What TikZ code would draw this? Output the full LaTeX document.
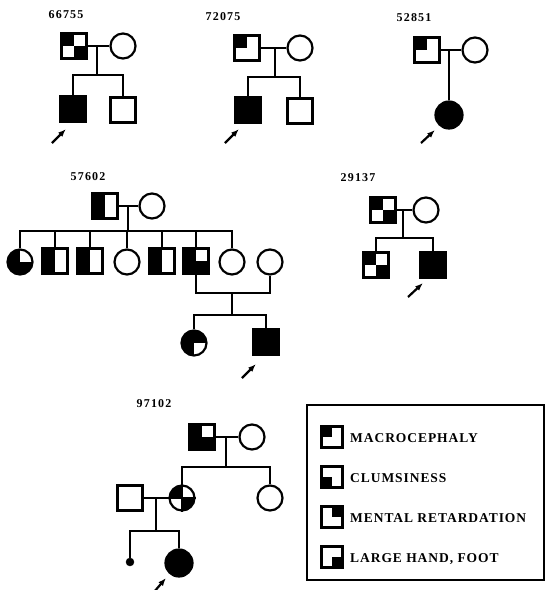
\documentclass[tikz,border=0pt]{standalone}
\usepackage{fontspec}
\setmainfont{Liberation Serif}
\newfontfamily\numfont[LetterSpace=10]{Liberation Serif}
\newfontfamily\keyfont[LetterSpace=7]{Liberation Serif}
\usetikzlibrary{arrows.meta}
\tikzset{
  sq/.style={draw, line width=2.4pt, minimum size=25pt, inner sep=0pt, fill=white},
  ci/.style={draw, circle, line width=2.2pt, minimum size=25pt, inner sep=0pt, fill=white},
  aff/.style={fill=black},
  dot/.style={draw, circle, fill=black, minimum size=8pt, inner sep=0pt},
  keysq/.style={draw, line width=2.4pt, minimum size=21pt, inner sep=0pt, fill=white},
  famno/.style={inner sep=0pt, font=\numfont\bfseries\fontsize{12}{12}\selectfont},
  keytext/.style={anchor=base west, inner sep=0pt, font=\keyfont\bfseries\fontsize{13.5}{13.5}\selectfont},
  pline/.style={line width=2.2pt},
  proband/.style={-{Latex[length=8pt,width=6pt]}, line width=2.2pt}
}
% one black quarter of a square
\newcommand\sqq[2]{\fill (#1.center) rectangle (#1.#2);}
% one black quarter of a circle
\newcommand\ciq[3]{\begin{scope}\clip (#1.center) circle[radius=12.5pt];
  \fill (#1.center) rectangle ([xshift=#2pt,yshift=#3pt]#1.center);\end{scope}}

\begin{document}
\begin{tikzpicture}[x=1pt,y=-1pt]
  \useasboundingbox (0,0) rectangle (545,590);
  % 66755
  \node (n1) [famno] at (66,15) {66755};
  \node (f1) [sq] at (74,46) {}; \sqq{f1}{north west} \sqq{f1}{south east}
  \node (m1) [ci] at (123,46) {};
  \node (s11) [sq,aff] at (73,109) {};
  \node (s12) [sq] at (123,110) {};
  \coordinate (j1) at (97,46);
  \coordinate (b1) at (97,75);
  \draw[pline] (f1) -- (m1);
  \draw[pline] (j1) -- (b1);
  \draw[pline] (s11) |- (b1) -| (s12);
  \coordinate (t1) at (52,143); \coordinate (a1) at (66,129);
  \draw[proband] (t1) -- (a1);
  % 72075
  \node (n2) [famno] at (223,17) {72075};
  \node (f2) [sq] at (247,48) {}; \sqq{f2}{north west}
  \node (m2) [ci] at (300,48) {};
  \node (s21) [sq,aff] at (248,110) {};
  \node (s22) [sq] at (300,111) {};
  \coordinate (j2) at (275,48);
  \coordinate (b2) at (275,77);
  \draw[pline] (f2) -- (m2);
  \draw[pline] (j2) -- (b2);
  \draw[pline] (s21) |- (b2) -| (s22);
  \coordinate (t2) at (225,143); \coordinate (a2) at (239,129);
  \draw[proband] (t2) -- (a2);
  % 52851
  \node (n3) [famno] at (414,18) {52851};
  \node (f3) [sq] at (427,50) {}; \sqq{f3}{north west}
  \node (m3) [ci] at (475,50) {};
  \node (s31) [ci,aff,minimum size=27pt] at (449,115) {};
  \coordinate (j3) at (449,50);
  \draw[pline] (f3) -- (m3);
  \draw[pline] (j3) -- (s31);
  \coordinate (t3) at (421,143); \coordinate (a3) at (435,130);
  \draw[proband] (t3) -- (a3);
  % 57602
  \node (n4) [famno] at (88,177) {57602};
  \node (f4) [sq] at (105,206) {}; \sqq{f4}{north west} \sqq{f4}{south west}
  \node (m4) [ci] at (152,206) {};
  \node (k1) [ci] at (20,262) {}; \ciq{k1}{-14}{14} \ciq{k1}{-14}{-14} \ciq{k1}{14}{-14}
  \node (k2) [sq] at (55,261) {}; \sqq{k2}{north west} \sqq{k2}{south west}
  \node (k3) [sq] at (90,261) {}; \sqq{k3}{north west} \sqq{k3}{south west}
  \node (k4) [ci] at (127,262) {};
  \node (k5) [sq] at (162,261) {}; \sqq{k5}{north west} \sqq{k5}{south west}
  \node (k6) [sq] at (196,261) {}; \sqq{k6}{north west} \sqq{k6}{south west} \sqq{k6}{south east}
  \node (k7) [ci] at (232,262) {};
  \node (k8) [ci] at (270,262) {};
  \node (g1) [ci] at (194,343) {}; \ciq{g1}{-14}{14} \ciq{g1}{14}{14} \ciq{g1}{-14}{-14}
  \node (g2) [sq,aff] at (266,342) {};
  \coordinate (j4) at (128,206);
  \coordinate (b4) at (128,231);
  \coordinate (j7) at (232,293);
  \coordinate (b7) at (232,315);
  \draw[pline] (f4) -- (m4);
  \draw[pline] (j4) -- (b4);
  \draw[pline] (k1) |- (b4) -| (k7);
  \foreach \k in {k2,k3,k4,k5,k6}
    \draw[pline] (\k) -- (\k |- b4);
  \draw[pline] (k6) |- (j7) -| (k8);
  \draw[pline] (j7) -- (b7);
  \draw[pline] (g1) |- (b7) -| (g2);
  \coordinate (t4) at (242,378); \coordinate (a4) at (256,364);
  \draw[proband] (t4) -- (a4);
  % 29137
  \node (n5) [famno] at (358,178) {29137};
  \node (f5) [sq] at (383,210) {}; \sqq{f5}{north west} \sqq{f5}{south east}
  \node (m5) [ci] at (426,210) {};
  \node (h1) [sq] at (376,265) {}; \sqq{h1}{north west} \sqq{h1}{south east}
  \node (h2) [sq,aff] at (433,265) {};
  \coordinate (j5) at (403,210);
  \coordinate (b5) at (403,238);
  \draw[pline] (f5) -- (m5);
  \draw[pline] (j5) -- (b5);
  \draw[pline] (h1) |- (b5) -| (h2);
  \coordinate (t5) at (408,297); \coordinate (a5) at (423,283);
  \draw[proband] (t5) -- (a5);
  % 97102
  \node (n6) [famno] at (154,404) {97102};
  \node (f6) [sq] at (202,437) {}; \sqq{f6}{north west} \sqq{f6}{south west} \sqq{f6}{south east}
  \node (m6) [ci] at (252,437) {};
  \node (d0) [sq] at (130,498) {};
  \node (d1) [ci] at (182,498) {}; \ciq{d1}{-14}{14} \ciq{d1}{14}{-14}
  \draw[line width=1.4pt] (d1.north) -- (d1.south) (d1.west) -- (d1.east);
  \node (d2) [ci] at (270,498) {};
  \node (e1) [dot] at (130,562) {};
  \node (e2) [ci,aff,minimum size=27pt] at (179,563) {};
  \coordinate (j6) at (226,437);
  \coordinate (b6) at (226,467);
  \coordinate (j9) at (156,498);
  \coordinate (b9) at (156,531);
  \draw[pline] (f6) -- (m6);
  \draw[pline] (j6) -- (b6);
  \draw[pline] (d1) |- (b6) -| (d2);
  \draw[pline] (d0) -- (d1);
  \draw[pline] (j9) -- (b9);
  \draw[pline] (e1) |- (b9) -| (e2);
  \coordinate (t6) at (154,592); \coordinate (a6) at (166,578);
  \draw[proband] (t6) -- (a6);
  % key
  \draw[line width=1.5pt] (307,405) rectangle (544,580);
  \foreach \y/\c/\t [count=\i] in {437/north west/MACROCEPHALY, 477/south west/CLUMSINESS,
      517/north east/MENTAL RETARDATION, 557/south east/{LARGE HAND, FOOT}} {
    \node (q\i) [keysq] at (332,\y) {}; \sqq{q\i}{\c}
    \node (l\i) [keytext] at (350,\y+5) {\t};
  }
\end{tikzpicture}
\end{document}
